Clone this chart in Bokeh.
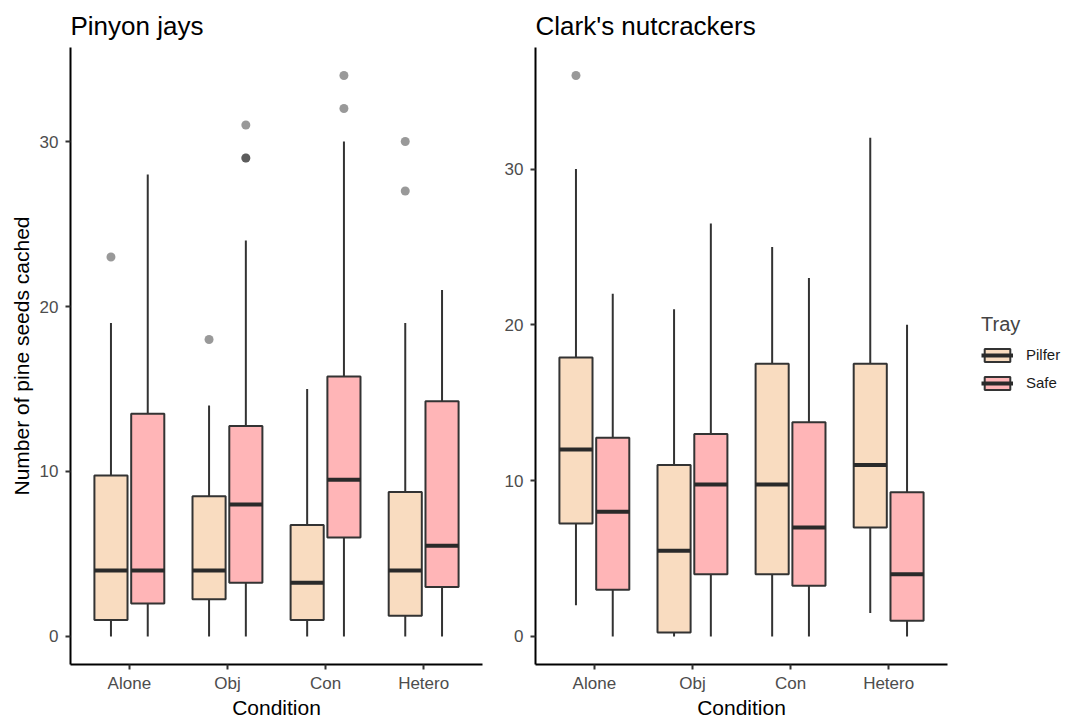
from bokeh.plotting import figure
from bokeh.models import ColumnDataSource, Range1d, FixedTicker, Legend, LegendItem
from bokeh.layouts import row
from bokeh.embed import file_html
from bokeh.resources import INLINE

# ---------------- data ----------------
conditions = ["Alone", "Obj", "Con", "Hetero"]
trays = ["Pilfer", "Safe"]

# Pinyon jays
pj_pilfer_lower = [0, 0, 0, 0]
pj_pilfer_q1 = [1, 2.25, 1, 1.25]
pj_pilfer_med = [4, 4, 3.25, 4]
pj_pilfer_q3 = [9.75, 8.5, 6.75, 8.75]
pj_pilfer_upper = [19, 14, 15, 19]

pj_safe_lower = [0, 0, 0, 0]
pj_safe_q1 = [2, 3.25, 6, 3]
pj_safe_med = [4, 8, 9.5, 5.5]
pj_safe_q3 = [13.5, 12.75, 15.75, 14.25]
pj_safe_upper = [28, 24, 30, 21]

pj_out_cond = ["Alone", "Obj", "Obj", "Obj", "Obj", "Con", "Con", "Hetero", "Hetero"]
pj_out_tray = ["Pilfer", "Pilfer", "Safe", "Safe", "Safe", "Safe", "Safe", "Pilfer", "Pilfer"]
pj_out_value = [23, 18, 31, 29, 29, 34, 32, 30, 27]

# Clark's nutcrackers
cn_pilfer_lower = [2, 0, 0, 1.5]
cn_pilfer_q1 = [7.25, 0.25, 4, 7]
cn_pilfer_med = [12, 5.5, 9.75, 11]
cn_pilfer_q3 = [17.9, 11, 17.5, 17.5]
cn_pilfer_upper = [30, 21, 25, 32]

cn_safe_lower = [0, 0, 0, 0]
cn_safe_q1 = [3, 4, 3.25, 1]
cn_safe_med = [8, 9.75, 7, 4]
cn_safe_q3 = [12.75, 13, 13.75, 9.25]
cn_safe_upper = [22, 26.5, 23, 20]

cn_out_cond = ["Alone"]
cn_out_tray = ["Pilfer"]
cn_out_value = [36]

y_ticks = [0, 10, 20, 30]

# ---------------- style ----------------
FONT = "Liberation Sans"
BOX_W = 0.3375
OFFSETS = {"Pilfer": -0.1875, "Safe": 0.1875}
COLORS = {"Pilfer": "#F9DCC0", "Safe": "#FFB5B7"}
LINE = "#333333"


def make_panel(title, stats, out_cond, out_tray, out_val, y_range, border_left, border_right, ylabel):
    p = figure(frame_width=412, frame_height=617,
               min_border_left=border_left, min_border_right=border_right,
               min_border_top=47, min_border_bottom=55,
               x_range=Range1d(0.4, 4.6), y_range=Range1d(*y_range),
               output_backend="svg", toolbar_location=None, title=title)
    p.outline_line_color = None
    p.xgrid.visible = False
    p.ygrid.visible = False
    p.background_fill_color = "white"
    p.border_fill_color = "white"

    p.title.text_font = FONT
    p.title.text_font_size = "26px"
    p.title.text_font_style = "normal"
    p.title.text_color = "black"
    p.title.align = "left"
    p.title.standoff = 14

    rend = {}
    for tray in trays:
        s = stats[tray]
        xs = [i + 1 + OFFSETS[tray] for i in range(len(conditions))]
        src = ColumnDataSource(dict(
            x=xs,
            x0=[x - BOX_W / 2 for x in xs],
            x1=[x + BOX_W / 2 for x in xs],
            lower=s[0], q1=s[1], med=s[2], q3=s[3], upper=s[4]))
        p.segment(x0="x", y0="q3", x1="x", y1="upper", source=src,
                  line_color=LINE, line_width=2)
        p.segment(x0="x", y0="lower", x1="x", y1="q1", source=src,
                  line_color=LINE, line_width=2)
        box = p.vbar(x="x", width=BOX_W, bottom="q1", top="q3", source=src,
                     fill_color=COLORS[tray], line_color=LINE, line_width=2)
        med = p.segment(x0="x0", y0="med", x1="x1", y1="med", source=src,
                        line_color="#2a2a2a", line_width=4)
        rend[tray] = [box, med]

    ox = [conditions.index(c) + 1 + OFFSETS[t] for c, t in zip(out_cond, out_tray)]
    p.scatter(ox, out_val, size=9, fill_color="black", fill_alpha=0.4, line_color=None)

    for ax in (p.xaxis, p.yaxis):
        ax.axis_line_color = "black"
        ax.axis_line_width = 2
        ax.major_tick_line_color = LINE
        ax.major_tick_line_width = 2
        ax.major_tick_out = 5
        ax.major_tick_in = 0
        ax.minor_tick_line_color = None
        ax.major_label_text_font = FONT
        ax.major_label_text_font_size = "17px"
        ax.major_label_text_color = "#4D4D4D"
        ax.axis_label_text_font = FONT
        ax.axis_label_text_font_size = "21px"
        ax.axis_label_text_font_style = "normal"
        ax.axis_label_text_color = "black"

    p.xaxis.ticker = FixedTicker(ticks=[1, 2, 3, 4])
    p.xaxis.major_label_overrides = {i + 1: c for i, c in enumerate(conditions)}
    p.xaxis.axis_label = "Condition"
    p.xaxis.major_label_standoff = 4
    p.xaxis.axis_label_standoff = 0
    p.yaxis.ticker = FixedTicker(ticks=y_ticks)
    p.yaxis.major_label_standoff = 7
    if ylabel:
        p.yaxis.axis_label = ylabel
        p.yaxis.axis_label_standoff = 4
    return p, rend


p1, _ = make_panel(
    "Pinyon jays",
    {"Pilfer": [pj_pilfer_lower, pj_pilfer_q1, pj_pilfer_med, pj_pilfer_q3, pj_pilfer_upper],
     "Safe": [pj_safe_lower, pj_safe_q1, pj_safe_med, pj_safe_q3, pj_safe_upper]},
    pj_out_cond, pj_out_tray, pj_out_value, (-1.7, 35.7), 70, 18,
    "Number of pine seeds cached")

p2, rend2 = make_panel(
    "Clark's nutcrackers",
    {"Pilfer": [cn_pilfer_lower, cn_pilfer_q1, cn_pilfer_med, cn_pilfer_q3, cn_pilfer_upper],
     "Safe": [cn_safe_lower, cn_safe_q1, cn_safe_med, cn_safe_q3, cn_safe_upper]},
    cn_out_cond, cn_out_tray, cn_out_value, (-1.8, 37.8), 35, 0, None)

legend = Legend(items=[LegendItem(label=t, renderers=rend2[t]) for t in trays],
                title="Tray", location=(34, 273))
legend.title_text_font = FONT
legend.title_text_font_size = "20px"
legend.title_text_font_style = "normal"
legend.title_standoff = 10
legend.label_text_font = FONT
legend.label_text_font_size = "15px"
legend.label_text_color = "#1a1a1a"
legend.label_width = 60
legend.glyph_width = 32
legend.glyph_height = 16
legend.spacing = 11
legend.label_standoff = 13
legend.border_line_color = None
legend.background_fill_alpha = 0
legend.margin = 0
legend.padding = 8
p2.add_layout(legend, "right")

layout = row(p1, p2)
open("out.html", "w").write(file_html(layout, INLINE))
